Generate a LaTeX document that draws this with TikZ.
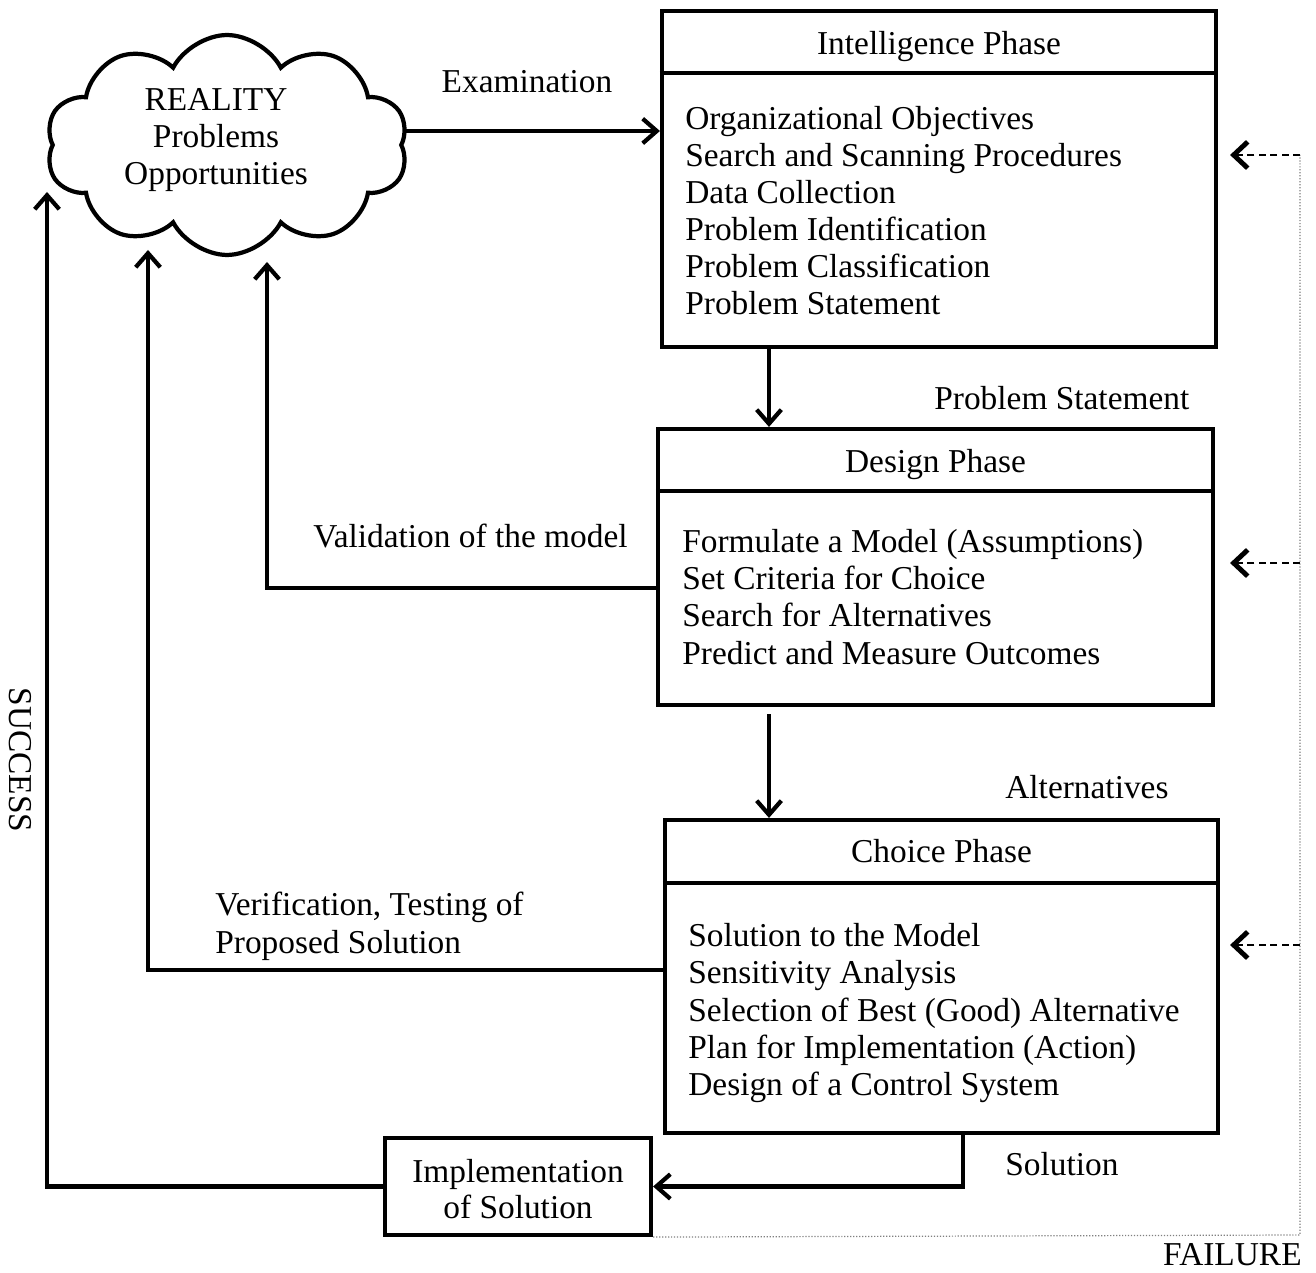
\documentclass[tikz,border=0pt]{standalone}
\usepackage{fontspec}
\setmainfont{Liberation Serif}
\usetikzlibrary{arrows.meta,shapes.symbols,calc}
\begin{document}
\begin{tikzpicture}[x=0.02cm,y=-0.02cm,
  every node/.style={font=\fontsize{19}{21.2}\selectfont, inner sep=0pt},
  boxnode/.style={draw, line width=2.4pt, rectangle, inner sep=0pt},
  sepline/.style={line width=2.4pt},
  flow/.style={line width=2.4pt, -{Straight Barb[length=8pt,width=14pt]}},
  fb/.style={line width=1.3pt, dash pattern=on 4pt off 2.5pt, -{Straight Barb[length=8pt,width=15pt,line width=2.8pt]}},
  failline/.style={gray, line width=0.7pt, densely dotted},
  item/.style={anchor=base west},
  ttl/.style={anchor=base}]
\useasboundingbox (0,0) rectangle (1316,1273);

% cloud
\node[cloud, draw, line width=2.4pt, cloud puffs=10, cloud puff arc=125, aspect=1.6,
      minimum width=7.24cm, minimum height=4.4cm] (cloud) at (227,145) {};
\node[ttl] (c1) at (216,111) {REALITY};
\node[ttl] (c2) at (216,148) {Problems};
\node[ttl] (c3) at (216,185) {Opportunities};

% boxes
\node[boxnode, minimum width=11.08cm, minimum height=6.72cm] (intel) at (939,179) {};
\node[boxnode, minimum width=11.10cm, minimum height=5.52cm] (design) at (935.5,567) {};
\node[boxnode, minimum width=11.06cm, minimum height=6.26cm] (choice) at (941.5,976.5) {};
\node[boxnode, minimum width=5.32cm, minimum height=1.94cm] (impl) at (518,1186.5) {};

\draw[sepline] ($(intel.north west)+(0,64)$) -- ($(intel.north east)+(0,64)$);
\draw[sepline] ($(design.north west)+(0,64)$) -- ($(design.north east)+(0,64)$);
\draw[sepline] ($(choice.north west)+(0,65)$) -- ($(choice.north east)+(0,65)$);

% titles
\node[ttl] (it) at (939,55) {Intelligence Phase};
\node[ttl] (dt) at (935.5,473) {Design Phase};
\node[ttl] (ct) at (941.5,863) {Choice Phase};

% intelligence items
\node[item] (i1) at (685,129.5) {Organizational Objectives};
\node[item] (i2) at (685,167) {Search and Scanning Procedures};
\node[item] (i3) at (685,204) {Data Collection};
\node[item] (i4) at (685,241) {Problem Identification};
\node[item] (i5) at (685,278) {Problem Classification};
\node[item] (i6) at (685,315) {Problem Statement};

% design items
\node[item] (d1) at (682,553) {Formulate a Model (Assumptions)};
\node[item] (d2) at (682,590) {Set Criteria for Choice};
\node[item] (d3) at (682,627) {Search for Alternatives};
\node[item] (d4) at (682,665) {Predict and Measure Outcomes};

% choice items
\node[item] (h1) at (688,946) {Solution to the Model};
\node[item] (h2) at (688,983) {Sensitivity Analysis};
\node[item] (h3) at (688,1021) {Selection of Best (Good) Alternative};
\node[item] (h4) at (688,1058) {Plan for Implementation (Action)};
\node[item] (h5) at (688,1095) {Design of a Control System};

% implementation
\node[ttl] (m1) at (518,1182) {Implementation};
\node[ttl] (m2) at (518,1218) {of Solution};

% labels
\node[ttl] (lex) at (527,93) {Examination};
\node[item] (lps) at (934,410) {Problem Statement};
\node[item] (lal) at (1005,799) {Alternatives};
\node[item] (lso) at (1005,1175) {Solution};
\node[item] (lva) at (313,548) {Validation of the model};
\node[item] (lv1) at (215,915) {Verification, Testing of};
\node[item] (lv2) at (215,953) {Proposed Solution};
\node[anchor=base east] (lfa) at (1302,1265) {FAILURE};
\node[rotate=-90] (lsu) at (20,760) {SUCCESS};

% coordinates
\coordinate (cE) at (0,131);
\coordinate (xa) at (769,0);
\coordinate (xs) at (963,0);
\coordinate (t1) at (47,192);
\coordinate (t2) at (148,250);
\coordinate (t3) at (267,262);
\coordinate (cv) at (0,970);
\coordinate (cval) at (0,588);
\coordinate (fB) at (1300,1235);
\coordinate (fI) at (1300,155);
\coordinate (fD) at (1300,563);
\coordinate (fC) at (1300,945);

% connectors
\draw[flow] (cloud.east |- cE) -- (intel.west |- cE);
\draw[flow] (intel.south -| xa) -- (design.north -| xa);
\draw[flow] ($(design.south -| xa)+(0,7)$) -- (choice.north -| xa);
\draw[flow] (choice.south -| xs) |- (impl.east);
\draw[flow] (impl.west) -| (t1);
\draw[flow] (choice.west |- cv) -| (t2);
\draw[flow] (design.west |- cval) -| (t3);

% failure loop
\draw[failline] (impl.south east) -- (fB) -- (fI);
\draw[fb] (fI) -- ($(intel.east |- fI)+(12,0)$);
\draw[fb] (fD) -- ($(design.east |- fD)+(15,0)$);
\draw[fb] (fC) -- ($(choice.east |- fC)+(10,0)$);
\end{tikzpicture}
\end{document}
